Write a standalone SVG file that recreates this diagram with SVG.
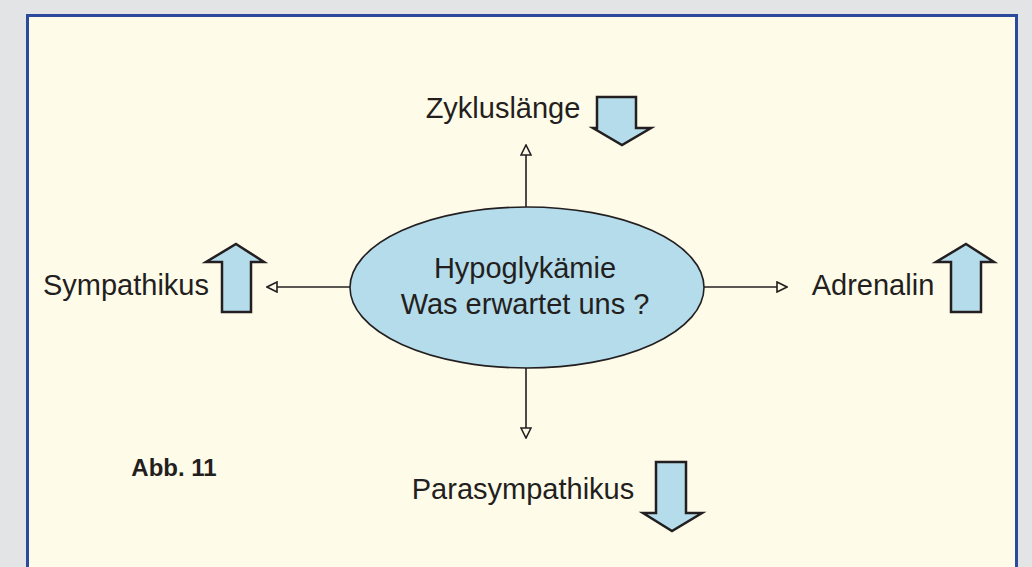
<svg xmlns="http://www.w3.org/2000/svg" width="1032" height="567" viewBox="0 0 1032 567">
<defs>
<style>
.t{font-family:"Liberation Sans",Arial,sans-serif;font-size:29px;fill:#231f20;text-anchor:middle}
.b{font-family:"Liberation Sans",Arial,sans-serif;font-size:24px;font-weight:bold;fill:#231f20;text-anchor:middle}
.blk{fill:#b5dcea;stroke:#231f20;stroke-width:2.5;stroke-linejoin:miter}
.con{stroke:#231f20;stroke-width:1.6;fill:none}
</style>
<marker id="oa" viewBox="0 0 12 12" markerWidth="12" markerHeight="12" refX="11" refY="6" orient="auto" markerUnits="userSpaceOnUse">
<path d="M1,1 L11,6 L1,11 z" fill="#fffbe9" stroke="#231f20" stroke-width="1.6"/>
</marker>
</defs>
<rect x="0" y="0" width="1032" height="567" fill="#e3e4e6"/>
<rect x="27.5" y="15.5" width="989" height="560" fill="#fffbe9" stroke="#2a4a9e" stroke-width="3"/>
<g id="connectors">
<line class="con" x1="526" y1="207" x2="526" y2="145" marker-end="url(#oa)"/>
<line class="con" x1="350" y1="287" x2="267" y2="287" marker-end="url(#oa)"/>
<line class="con" x1="704" y1="287" x2="787" y2="287" marker-end="url(#oa)"/>
<line class="con" x1="526" y1="368" x2="526" y2="438" marker-end="url(#oa)"/>
</g>
<g id="center">
<ellipse cx="527" cy="287.5" rx="177" ry="80.5" fill="#b5dcea" stroke="#231f20" stroke-width="1.6"/>
<text class="t" x="525" y="278">Hypoglykämie</text>
<text class="t" x="525" y="314">Was erwartet uns ?</text>
</g>
<g id="zyklus">
<text class="t" x="503" y="118">Zykluslänge</text>
<polygon class="blk" points="597,97 636,97 636,128 651,128 622,145 593,128 597,128"/>
</g>
<g id="sympathikus">
<text class="t" x="126" y="295">Sympathikus</text>
<polygon class="blk" points="236,244 264,262 251,262 251,312 222,312 222,262 206,262"/>
</g>
<g id="adrenalin">
<text class="t" x="873" y="295">Adrenalin</text>
<polygon class="blk" points="966,244 994,262 981,262 981,312 951,312 951,262 936,262"/>
</g>
<g id="parasympathikus">
<text class="t" x="523" y="499">Parasympathikus</text>
<polygon class="blk" points="656,462 686,462 686,513 702,513 672,531 643,513 656,513"/>
</g>
<g id="abb">
<text class="b" x="174" y="476">Abb. 11</text>
</g>
</svg>
